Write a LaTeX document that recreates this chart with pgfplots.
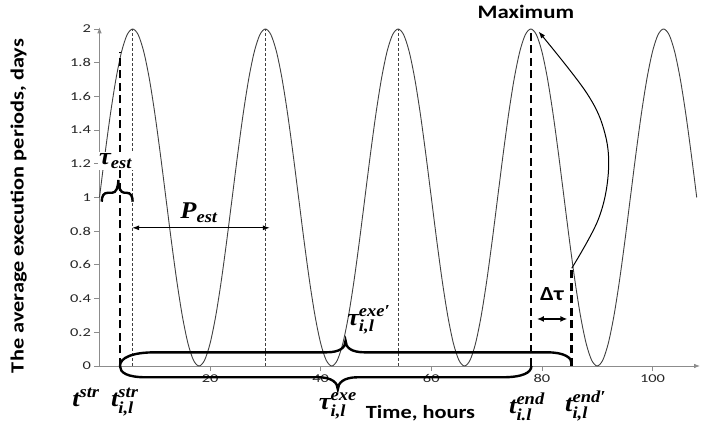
\documentclass[border=0pt]{standalone}
\usepackage{amsmath}
\usepackage{fontspec}
\setmainfont{Carlito}
\newfontfamily\lblfont[FakeStretch=1.2]{Carlito}
\newfontfamily\tickfont[FakeStretch=1.37]{Carlito}
\newfontfamily\mfont[FakeStretch=1.1]{Liberation Serif}
\newcommand\mb[1]{\text{\mfont\bfseries\itshape #1}}
\usepackage{pgfplots}
\pgfplotsset{compat=1.18}
\usetikzlibrary{arrows.meta}

\pgfplotstableread{
x y
0 1
1 1.259
2 1.5
3 1.707
4 1.866
5 1.966
6 2
7 1.966
8 1.866
9 1.707
10 1.5
11 1.259
12 1
13 0.741
14 0.5
15 0.293
16 0.134
17 0.034
18 0
19 0.034
20 0.134
21 0.293
22 0.5
23 0.741
24 1
25 1.259
26 1.5
27 1.707
28 1.866
29 1.966
30 2
31 1.966
32 1.866
33 1.707
34 1.5
35 1.259
36 1
37 0.741
38 0.5
39 0.293
40 0.134
41 0.034
42 0
43 0.034
44 0.134
45 0.293
46 0.5
47 0.741
48 1
49 1.259
50 1.5
51 1.707
52 1.866
53 1.966
54 2
55 1.966
56 1.866
57 1.707
58 1.5
59 1.259
60 1
61 0.741
62 0.5
63 0.293
64 0.134
65 0.034
66 0
67 0.034
68 0.134
69 0.293
70 0.5
71 0.741
72 1
73 1.259
74 1.5
75 1.707
76 1.866
77 1.966
78 2
79 1.966
80 1.866
81 1.707
82 1.5
83 1.259
84 1
85 0.741
86 0.5
87 0.293
88 0.134
89 0.034
90 0
91 0.034
92 0.134
93 0.293
94 0.5
95 0.741
96 1
97 1.259
98 1.5
99 1.707
100 1.866
101 1.966
102 2
103 1.966
104 1.866
105 1.707
106 1.5
107 1.259
108 1
}\periods

\begin{document}
\begin{tikzpicture}
\begin{axis}[
    x=5.53bp, y=168.5bp,
    xmin=0, xmax=108.6,
    ymin=0, ymax=2.01,
    axis x line=bottom, axis y line=left,
    axis line style={black!45, line width=0.8bp, -{Latex[length=6bp,width=4.5bp]}},
    xtick={20,40,60,80,100},
    ytick={0,0.2,0.4,0.6,0.8,1,1.2,1.4,1.6,1.8,2},
    yticklabels={0,0.2,0.4,0.6,0.8,1,1.2,1.4,1.6,1.8,2},
    tick align=outside,
    major tick length=5bp,
    tick style={black!45, line width=0.8bp},
    /pgf/number format/assume math mode=true,
    tick label style={font=\tickfont\fontsize{12bp}{12bp}\selectfont, text=black!85},
    clip=false,
]
% the curve
\addplot[smooth, black!75, line width=0.9bp] table[x=x, y=y] {\periods};

% thin dotted lines at the maxima
\draw[black!75, line width=0.9bp, dash pattern=on 3bp off 2bp] (6,0) -- (6,2);
\draw[black!75, line width=0.9bp, dash pattern=on 3bp off 2bp] (30,0) -- (30,2);
\draw[black!75, line width=0.9bp, dash pattern=on 3bp off 2bp] (54,0) -- (54,2);

% thick dashed lines
\draw[black, line width=2.6bp, dash pattern=on 8bp off 4.5bp] (3.7,0) -- (3.7,1.865);
\draw[black, line width=2.6bp, dash pattern=on 8bp off 4.5bp] (78,0) -- (78,1.99);
\draw[black, line width=2.6bp, dash pattern=on 8bp off 4.5bp] (85.4,0) -- (85.4,0.58);

% tau_est label and brace
\node[fill=white, inner sep=1.5bp, font=\fontsize{24bp}{24bp}\selectfont] at (2.9,1.217) {$\mb{τ}_{\mb{est}}$};
\draw[black, line width=2.4bp] (0.4,0.975) .. controls (0.4,1.01) and (0.8,1.028) .. (1.5,1.028)
   -- (2.3,1.028) .. controls (3.0,1.028) and (3.4,1.06) .. (3.4,1.104)
   .. controls (3.4,1.06) and (3.8,1.028) .. (4.5,1.028) -- (4.9,1.028)
   .. controls (5.6,1.028) and (6.0,1.01) .. (6.0,0.975);

% P_est
\draw[black, line width=1bp, {Latex[length=7bp,width=5bp]}-{Latex[length=7bp,width=5bp]}] (5.9,0.82) -- (30.8,0.82);
\node[font=\fontsize{24bp}{24bp}\selectfont] at (18.0,0.908) {$\mb{P}_{\mb{est}}$};

% big braces
\draw[black, line width=2.4bp] (3.7,0) .. controls (3.7,0.05) and (6,0.081) .. (10,0.081)
   -- (41,0.081) .. controls (43.5,0.081) and (44.5,0.11) .. (44.5,0.15)
   .. controls (44.5,0.11) and (45.5,0.081) .. (48,0.081)
   -- (81,0.081) .. controls (84,0.081) and (85.4,0.05) .. (85.4,0.015);
\draw[black, line width=2.4bp] (3.7,0) .. controls (3.7,-0.04) and (5,-0.067) .. (8.5,-0.067)
   -- (39.6,-0.067) .. controls (42,-0.067) and (43.1,-0.1) .. (43.1,-0.138)
   .. controls (43.1,-0.1) and (44.2,-0.067) .. (46.6,-0.067)
   -- (72.8,-0.067) .. controls (76.5,-0.067) and (78.1,-0.04) .. (78.1,0);

% delta tau
\draw[black, line width=1.5bp, {Latex[length=7bp,width=6bp]}-{Latex[length=7bp,width=6bp]}] (79.1,0.279) -- (84.6,0.279);
\node[anchor=base, font=\lblfont\bfseries\fontsize{20bp}{20bp}\selectfont] at (81.8,0.388) {Δτ};

% curved arrow to the maximum
\draw[black, line width=1bp, -{Latex[length=7bp,width=5bp]}] plot[smooth, tension=0.6] coordinates {(85.4,0.58) (90.2,0.87) (92.0,1.14) (91.4,1.38) (88.1,1.62) (79.4,1.985)};
\node[font=\lblfont\bfseries\fontsize{19bp}{19bp}\selectfont] at (77.1,2.10) {Maximum};

% labels below the axis
\node[anchor=base, font=\fontsize{24bp}{24bp}\selectfont] at (-2.44,-0.2415) {$\mb{t}^{\mb{str}}$};
\node[anchor=base, font=\fontsize{24bp}{24bp}\selectfont] at (4.58,-0.2415) {$\mb{t}^{\mb{str}}_{\mb{i,l}}$};
\node[anchor=base, font=\fontsize{24bp}{24bp}\selectfont] at (43.1,-0.261) {$\mb{τ}^{\mb{exe}}_{\mb{i,l}}$};
\node[anchor=base, font=\fontsize{24bp}{24bp}\selectfont] at (48.7,0.243) {$\mb{τ}^{\mb{exe′}}_{\mb{i,l}}$};
\node[anchor=base, font=\fontsize{24bp}{24bp}\selectfont] at (77.3,-0.281) {$\mb{t}^{\mb{end}}_{\mb{i.l}}$};
\node[anchor=base, font=\fontsize{24bp}{24bp}\selectfont] at (87.9,-0.271) {$\mb{t}^{\mb{end′}}_{\mb{i,l}}$};
\node[anchor=base, font=\lblfont\bfseries\fontsize{18.6bp}{18.6bp}\selectfont] at (58.05,-0.31) {Time, hours};
\node[rotate=90, font=\lblfont\bfseries\fontsize{18.6bp}{18.6bp}\selectfont] at (-14.6,0.95) {The average execution periods, days};

\coordinate (bl) at (-17.99,-0.4214);
\coordinate (tr) at (108.95,2.172);
\end{axis}
\pgfresetboundingbox
\path[use as bounding box] (bl) rectangle (tr);
\end{tikzpicture}
\end{document}
